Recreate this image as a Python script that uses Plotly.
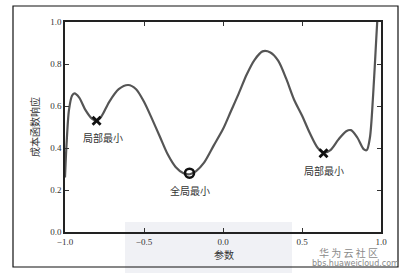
import plotly.graph_objects as go

# curve samples
x_vals = [-1.0, -0.99, -0.975, -0.955, -0.94, -0.91, -0.87, -0.83, -0.80, -0.77, -0.72, -0.66, -0.60,
          -0.55, -0.50, -0.45, -0.40, -0.35, -0.30, -0.25, -0.21, -0.17, -0.12, -0.06, 0.0, 0.05,
          0.10, 0.15, 0.20, 0.25, 0.30, 0.35, 0.40, 0.45, 0.50, 0.55, 0.60, 0.64, 0.68, 0.73,
          0.78, 0.81, 0.85, 0.89, 0.91, 0.93, 0.95, 0.97, 0.985]
y_vals = [0.26, 0.42, 0.58, 0.65, 0.66, 0.64, 0.58, 0.54, 0.53, 0.55, 0.62, 0.68, 0.70,
          0.68, 0.62, 0.54, 0.455, 0.37, 0.31, 0.28, 0.275, 0.29, 0.33, 0.41, 0.49, 0.575,
          0.66, 0.75, 0.82, 0.86, 0.855, 0.815, 0.73, 0.63, 0.555, 0.47, 0.40, 0.378, 0.39, 0.44,
          0.48, 0.485, 0.45, 0.395, 0.39, 0.45, 0.65, 0.92, 1.12]

local_min_x = [-0.80, 0.636]
local_min_y = [0.53, 0.375]
global_min_x = [-0.212]
global_min_y = [0.28]

labels = ["局部最小", "全局最小", "局部最小"]
label_x = [-0.76, -0.207, 0.64]
label_y = [0.45, 0.20, 0.295]

x_ticks = [-1.0, -0.5, 0.0, 0.5, 1.0]
y_ticks = [0.0, 0.2, 0.4, 0.6, 0.8, 1.0]

cjk = "Noto Sans CJK SC"
serif = "Liberation Serif"

fig = go.Figure()
fig.add_trace(go.Scatter(x=x_vals, y=y_vals, mode="lines",
                         line=dict(color="#555555", width=2.2, shape="spline", smoothing=0.8),
                         hoverinfo="skip"))
fig.add_trace(go.Scatter(x=local_min_x, y=local_min_y, mode="markers",
                         marker=dict(symbol="x-thin", size=8, color="#111111",
                                     line=dict(color="#111111", width=2.8))))
fig.add_trace(go.Scatter(x=global_min_x, y=global_min_y, mode="markers",
                         marker=dict(symbol="circle-open", size=9, color="#111111",
                                     line=dict(color="#111111", width=2.6))))

for t, lx, ly in zip(labels, label_x, label_y):
    fig.add_annotation(x=lx, y=ly, text=t, showarrow=False, xanchor="center", yanchor="middle",
                       font=dict(family=cjk, size=10, color="#333333"))

# axis titles
fig.add_annotation(xref="paper", yref="paper", x=(34 - 65) / 316, y=(232 - 127) / 210,
                   text="成本函数响应", textangle=-90, showarrow=False,
                   xanchor="center", yanchor="middle",
                   font=dict(family=cjk, size=10, color="#333333"))
fig.add_annotation(xref="paper", yref="paper", x=(224 - 65) / 316, y=(232 - 254) / 210,
                   text="参数", showarrow=False, xanchor="center", yanchor="middle",
                   font=dict(family=cjk, size=10, color="#333333"))

# watermark
fig.add_annotation(xref="paper", yref="paper", x=(348 - 65) / 316, y=(232 - 252) / 210,
                   text="华 为 云 社 区", showarrow=False, xanchor="center", yanchor="middle",
                   font=dict(family=cjk, size=10, color="#8a8a8a"))
fig.add_annotation(xref="paper", yref="paper", x=(355 - 65) / 316, y=(232 - 263) / 210,
                   text="bbs.huaweicloud.com", showarrow=False, xanchor="center", yanchor="middle",
                   font=dict(family="DejaVu Sans", size=8, color="#8a8a8a"))

# grey watermark patch and outer frame
fig.add_shape(type="rect", xref="paper", yref="paper", layer="below",
              x0=(125 - 65) / 316, x1=(292 - 65) / 316, y0=(232 - 273) / 210, y1=(232 - 222) / 210,
              fillcolor="#f0f1f5", line=dict(width=0))
fig.add_shape(type="rect", xref="paper", yref="paper", layer="above",
              x0=(13 - 65) / 316, x1=(398 - 65) / 316, y0=(232 - 267) / 210, y1=(232 - 6) / 210,
              line=dict(color="#111111", width=1.2))

axis_common = dict(showgrid=False, zeroline=False, showline=True, linecolor="#222222", linewidth=1.5,
                   mirror="ticks", ticks="inside", ticklen=4, tickcolor="#333333", tickwidth=1,
                   tickfont=dict(family=serif, size=9, color="#333333"), tickformat=".1f")
fig.update_xaxes(range=[-1.0, 1.0], tickvals=x_ticks, **axis_common)
fig.update_yaxes(range=[0.0, 1.0], tickvals=y_ticks, **axis_common)

fig.update_layout(width=405, height=273, margin=dict(l=65, r=24, t=22, b=41),
                  paper_bgcolor="white", plot_bgcolor="rgba(0,0,0,0)", showlegend=False)

fig.write_html("out.html")
